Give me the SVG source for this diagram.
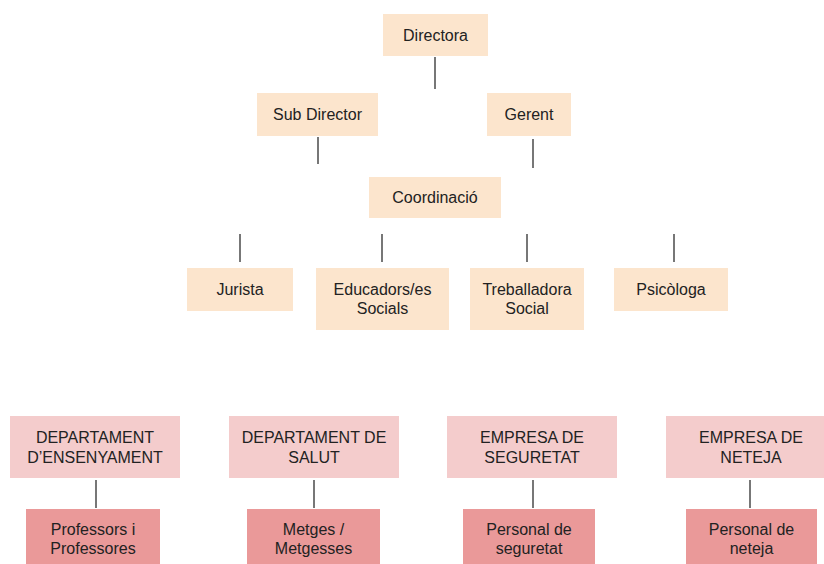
<svg xmlns="http://www.w3.org/2000/svg" width="824" height="564" viewBox="0 0 824 564">
<style>
.a{fill:#fce5cd}
.b{fill:#f4cccc}
.c{fill:#ea9999}
text{font-family:"Liberation Sans",Arial,sans-serif;font-size:16px;fill:#222222;text-anchor:middle}
.ln line{stroke:#4a4a4a;stroke-width:1.5}
</style>
<rect width="824" height="564" fill="#ffffff"/>
<g class="ln" id="connectors">
<line x1="435" y1="57" x2="435" y2="89"/>
<line x1="318" y1="137" x2="318" y2="164"/>
<line x1="533" y1="139" x2="533" y2="168"/>
<line x1="240" y1="234" x2="240" y2="262"/>
<line x1="382" y1="234" x2="382" y2="262"/>
<line x1="527" y1="234" x2="527" y2="262"/>
<line x1="674" y1="234" x2="674" y2="262"/>
<line x1="96" y1="480" x2="96" y2="508"/>
<line x1="314" y1="480" x2="314" y2="508"/>
<line x1="533" y1="480" x2="533" y2="508"/>
<line x1="750" y1="480" x2="750" y2="508"/>
</g>
<g id="directora"><rect class="a" x="383" y="14" width="105" height="42"/><text x="435.5" y="40.5">Directora</text></g>
<g id="subdirector"><rect class="a" x="257" y="93" width="121" height="43"/><text x="317.5" y="120">Sub Director</text></g>
<g id="gerent"><rect class="a" x="487" y="93" width="84" height="43"/><text x="529" y="120">Gerent</text></g>
<g id="coordinacio"><rect class="a" x="369" y="177" width="132" height="41"/><text x="435" y="203">Coordinació</text></g>
<g id="jurista"><rect class="a" x="187" y="268" width="106" height="43"/><text x="240" y="295">Jurista</text></g>
<g id="educadors"><rect class="a" x="316" y="268" width="133" height="62"/><text x="382.5" y="294.5">Educadors/es</text><text x="382.5" y="313.5">Socials</text></g>
<g id="treballadora"><rect class="a" x="470" y="268" width="114" height="62"/><text x="527" y="294.5">Treballadora</text><text x="527" y="313.5">Social</text></g>
<g id="psicologa"><rect class="a" x="614" y="268" width="114" height="43"/><text x="671" y="295">Psicòloga</text></g>
<g id="dep-ensenyament"><rect class="b" x="10" y="416" width="170" height="62"/><text x="95" y="442.5">DEPARTAMENT</text><text x="95" y="462.5">D’ENSENYAMENT</text></g>
<g id="dep-salut"><rect class="b" x="229" y="416" width="170" height="62"/><text x="314" y="442.5">DEPARTAMENT DE</text><text x="314" y="462.5">SALUT</text></g>
<g id="emp-seguretat"><rect class="b" x="447" y="416" width="170" height="62"/><text x="532" y="442.5">EMPRESA DE</text><text x="532" y="462.5">SEGURETAT</text></g>
<g id="emp-neteja"><rect class="b" x="666" y="416" width="170" height="62"/><text x="751" y="442.5">EMPRESA DE</text><text x="751" y="462.5">NETEJA</text></g>
<g id="professors"><rect class="c" x="26" y="509" width="134" height="70"/><text x="93" y="534.5">Professors i</text><text x="93" y="553.5">Professores</text></g>
<g id="metges"><rect class="c" x="247" y="509" width="133" height="70"/><text x="313.5" y="534.5">Metges /</text><text x="313.5" y="553.5">Metgesses</text></g>
<g id="personal-seguretat"><rect class="c" x="463" y="509" width="132" height="70"/><text x="529" y="534.5">Personal de</text><text x="529" y="553.5">seguretat</text></g>
<g id="personal-neteja"><rect class="c" x="686" y="509" width="131" height="70"/><text x="751.5" y="534.5">Personal de</text><text x="751.5" y="553.5">neteja</text></g>
</svg>
